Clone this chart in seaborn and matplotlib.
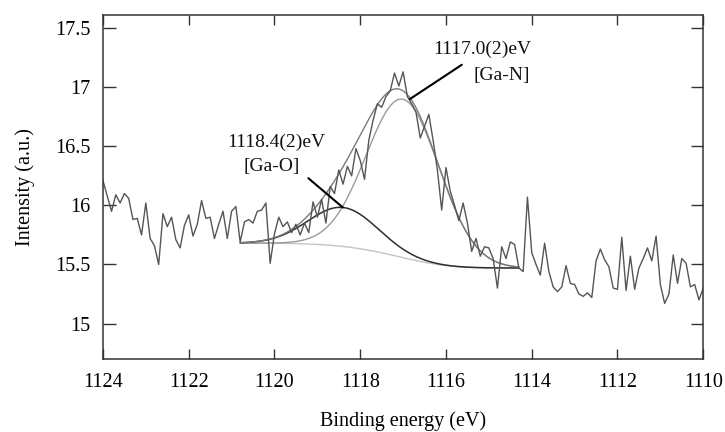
import numpy as np
import pandas as pd
import matplotlib
matplotlib.use("Agg")
import matplotlib.pyplot as plt
import seaborn as sns

# ---------------- data ----------------
energy = np.linspace(1124.0, 1110.0, 141)          # binding energy (eV), 0.1 eV steps
intensity = [
    16.21, 16.08, 15.95, 16.09, 16.02, 16.10, 16.06, 15.88, 15.89, 15.75,
    16.02, 15.72, 15.66, 15.50, 15.93, 15.82, 15.90, 15.71, 15.64, 15.83,
    15.92, 15.74, 15.84, 16.04, 15.89, 15.90, 15.72, 15.84, 15.95, 15.72,
    15.95, 15.99, 15.69, 15.86, 15.88, 15.85, 15.95, 15.96, 16.02, 15.51,
    15.76, 15.90, 15.82, 15.86, 15.77, 15.84, 15.75, 15.85, 15.77, 16.03,
    15.90, 16.05, 15.85, 16.16, 16.10, 16.30, 16.18, 16.33, 16.25, 16.48,
    16.38, 16.22, 16.55, 16.72, 16.86, 16.83, 16.92, 16.97, 17.12, 17.01,
    17.13, 16.92, 16.86, 16.79, 16.57, 16.67, 16.77, 16.55, 16.30, 15.96,
    16.32, 16.12, 16.00, 15.87, 16.02, 15.85, 15.61, 15.72, 15.57, 15.65,
    15.64, 15.55, 15.30, 15.65, 15.55, 15.69, 15.67, 15.47, 15.44, 16.07,
    15.60, 15.50, 15.41, 15.68, 15.44, 15.31, 15.27, 15.31, 15.49, 15.34,
    15.33, 15.25, 15.23, 15.26, 15.22, 15.53, 15.63, 15.54, 15.48, 15.30,
    15.29, 15.73, 15.28, 15.57, 15.29, 15.47, 15.55, 15.64, 15.53, 15.74,
    15.33, 15.17, 15.25, 15.58, 15.34, 15.55, 15.51, 15.31, 15.33, 15.20,
    15.30,
]

# fitted components
peak_names = ["Ga-O", "Ga-N"]
peak_centers = [1118.4, 1117.0]     # eV
peak_heights = [0.33, 1.34]         # above background
peak_sigmas = [0.80, 0.85]          # eV
peak_labels = ["1118.4(2)eV", "1117.0(2)eV"]
fit_range = [1120.8, 1114.3]        # eV (left, right)
bg_levels = [15.68, 15.47]          # background at left / right ends of fit range

x_ticks = [1124, 1122, 1120, 1118, 1116, 1114, 1112, 1110]
y_ticks = [15, 15.5, 16, 16.5, 17, 17.5]
y_tick_labels = ["15", "15.5", "16", "16.5", "17", "17.5"]

# ---------------- style ----------------
sns.set_theme(style="ticks")
plt.rcParams["font.family"] = ["Liberation Serif", "DejaVu Serif"]
plt.rcParams["axes.edgecolor"] = "#333333"
plt.rcParams["text.color"] = "black"
plt.rcParams["axes.labelcolor"] = "black"
plt.rcParams["xtick.labelcolor"] = "black"
plt.rcParams["ytick.labelcolor"] = "black"

fig = plt.figure(figsize=(7.25, 4.32), dpi=100)
ax = fig.add_axes([0.142, 0.169, 0.828, 0.796])

df = pd.DataFrame({"energy": energy, "intensity": intensity})

# fit model curves
e_fit = np.linspace(fit_range[0], fit_range[1], 400)
comps = [h * np.exp(-(e_fit - c) ** 2 / (2 * s ** 2))
         for c, h, s in zip(peak_centers, peak_heights, peak_sigmas)]
total = comps[0] + comps[1]
# Shirley-type background: proportional to the peak area at lower binding energy
cum = np.cumsum(total[::-1])[::-1]
cum = cum / cum[0]
bg = bg_levels[1] + (bg_levels[0] - bg_levels[1]) * cum

fit_df = pd.DataFrame({
    "energy": e_fit,
    "bg": bg,
    "ga_o": bg + comps[0],
    "ga_n": bg + comps[1],
    "env": bg + total,
})

sns.lineplot(data=fit_df, x="energy", y="bg", ax=ax, color="#c4c4c4", lw=1.0, sort=False)
sns.lineplot(data=fit_df, x="energy", y="ga_n", ax=ax, color="#9a9a9a", lw=1.0, sort=False)
sns.lineplot(data=fit_df, x="energy", y="ga_o", ax=ax, color="#2e2e2e", lw=1.1, sort=False)
sns.lineplot(data=fit_df, x="energy", y="env", ax=ax, color="#7a7a7a", lw=1.0, sort=False)
sns.lineplot(data=df, x="energy", y="intensity", ax=ax, color="#555555", lw=1.0, sort=False)

# annotations
i_o, i_n = 0, 1
k_o = np.argmax(comps[i_o])
ax.annotate("", xy=(e_fit[k_o], fit_df["ga_o"].iloc[k_o]),
            xytext=(1119.21, 16.23),
            arrowprops=dict(arrowstyle="-", color="black", lw=1.5, shrinkA=0, shrinkB=0))
ax.annotate("", xy=(1116.84, 16.90), xytext=(1115.63, 17.19),
            arrowprops=dict(arrowstyle="-", color="black", lw=1.5, shrinkA=0, shrinkB=0))

txt_kw = dict(ha="center", va="center", fontsize=14, color="#111111")
ax.text(1119.96, 16.53, peak_labels[i_o], **txt_kw)
ax.text(1120.06, 16.33, "[" + peak_names[i_o] + "]", **txt_kw)
ax.text(1115.16, 17.32, peak_labels[i_n], **txt_kw)
ax.text(1114.69, 17.10, "[" + peak_names[i_n] + "]", **txt_kw)

# axes
ax.set_xlim(1124, 1110)
ax.set_ylim(14.70, 17.61)
ax.set_xticks(x_ticks)
ax.set_xticklabels([str(t) for t in x_ticks])
ax.set_yticks(y_ticks)
ax.set_yticklabels(y_tick_labels)
ax.tick_params(axis="x", direction="in", length=7, width=1, top=True, bottom=True,
               labelsize=14.5, pad=10, color="#333333")
ax.tick_params(axis="y", direction="in", length=9, width=1, left=True, right=True,
               labelsize=14.5, pad=9, color="#333333")
for sp in ax.spines.values():
    sp.set_visible(True)
    sp.set_linewidth(1.1)

ax.set_xlabel("Binding energy (eV)", fontsize=14.5)
ax.set_ylabel("Intensity (a.u.)", fontsize=14.5)
ax.xaxis.set_label_coords(0.5, -0.152)
ax.yaxis.set_label_coords(-0.113, 0.5)
ax.grid(False)

fig.savefig("out.png", dpi=100, facecolor="white")
